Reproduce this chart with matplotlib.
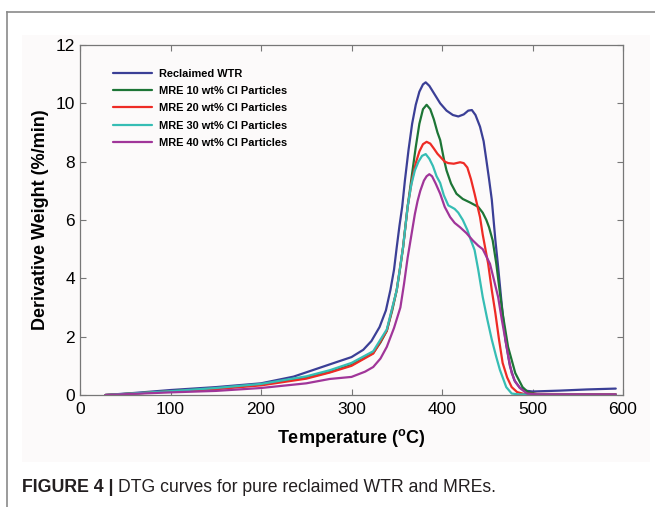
import matplotlib
matplotlib.use("Agg")
import matplotlib.pyplot as plt
from matplotlib.patches import Rectangle
from matplotlib.lines import Line2D
from matplotlib import font_manager as fm

# ---------------- data ----------------
t_wtr = [28, 60, 100, 150, 200, 236, 276, 300, 313, 322, 331, 338, 343, 347, 350, 353, 356, 359, 363, 367,
         371, 375, 379, 382, 386, 391, 398, 405, 412, 418, 424, 429, 433, 437, 442, 446, 449, 452, 455, 459,
         462, 466, 470, 475, 480, 486, 492, 500, 530, 560, 592]
y_wtr = [0.0, 0.07, 0.17, 0.27, 0.4, 0.63, 1.05, 1.3, 1.55, 1.85, 2.33, 2.9, 3.6, 4.3, 5.07, 5.8, 6.45, 7.35,
         8.4, 9.3, 9.95, 10.4, 10.65, 10.72, 10.6, 10.35, 10.0, 9.75, 9.6, 9.55, 9.62, 9.75, 9.77, 9.6, 9.2,
         8.7, 8.06, 7.4, 6.7, 5.3, 4.4, 3.1, 1.9, 1.0, 0.5, 0.25, 0.15, 0.12, 0.15, 0.19, 0.22]

t_10 = [28, 60, 100, 150, 200, 250, 276, 300, 324, 332, 339, 345, 350, 354, 357, 362, 367, 371, 375, 379,
        383, 387, 391, 395, 398, 402, 405, 410, 416, 423, 431, 440, 445, 449, 452, 456, 460, 464, 467, 473,
        481, 489, 495, 505, 550, 592]
y_10 = [0.0, 0.05, 0.13, 0.22, 0.36, 0.6, 0.79, 1.03, 1.44, 1.8, 2.2, 2.9, 3.6, 4.4, 5.07, 6.45, 7.6, 8.5,
        9.3, 9.8, 9.95, 9.8, 9.45, 9.0, 8.74, 8.1, 7.7, 7.25, 6.9, 6.72, 6.6, 6.45, 6.25, 6.0, 5.75, 5.3,
        4.5, 3.5, 2.8, 1.65, 0.75, 0.27, 0.1, 0.03, 0.02, 0.02]

t_20 = [28, 100, 150, 200, 250, 276, 300, 324, 339, 350, 357, 362, 367, 371, 375, 379, 383, 387, 391, 395,
        398, 403, 407, 413, 420, 424, 428, 432, 436, 442, 445, 448, 451, 455, 459, 463, 467, 472, 477, 483,
        490, 592]
y_20 = [0.0, 0.12, 0.2, 0.33, 0.56, 0.77, 1.0, 1.42, 2.2, 3.6, 5.07, 6.45, 7.4, 7.95, 8.35, 8.6, 8.68, 8.62,
        8.45, 8.27, 8.17, 8.0, 7.95, 7.93, 7.98, 7.95, 7.8, 7.4, 6.9, 6.1, 5.5, 5.0, 4.5, 3.6, 2.8, 1.9, 1.1,
        0.6, 0.27, 0.1, 0.04, 0.02]

t_30 = [28, 100, 150, 200, 250, 276, 300, 324, 339, 350, 357, 362, 366, 370, 374, 378, 382, 386, 390, 394,
        398, 402, 407, 410, 414, 418, 423, 428, 432, 436, 440, 445, 450, 455, 460, 464, 471, 477, 485, 592]
y_30 = [0.0, 0.13, 0.24, 0.38, 0.64, 0.85, 1.1, 1.5, 2.25, 3.6, 5.07, 6.45, 7.2, 7.7, 8.0, 8.2, 8.26, 8.1,
        7.85, 7.5, 7.27, 6.85, 6.5, 6.45, 6.38, 6.25, 6.0, 5.66, 5.3, 4.97, 4.3, 3.36, 2.6, 1.9, 1.3, 0.86,
        0.27, 0.05, 0.02, 0.01]

t_40 = [28, 100, 150, 200, 250, 276, 300, 315, 324, 332, 339, 347, 354, 358, 362, 366, 370, 373, 376, 380,
        383, 386, 389, 393, 398, 403, 409, 414, 420, 427, 434, 440, 445, 449, 453, 457, 462, 466, 470, 474,
        477, 481, 486, 494, 505, 592]
y_40 = [0.0, 0.09, 0.14, 0.24, 0.4, 0.55, 0.62, 0.8, 0.96, 1.25, 1.65, 2.3, 3.0, 3.8, 4.7, 5.45, 6.2, 6.65,
        7.0, 7.35, 7.5, 7.57, 7.5, 7.25, 6.9, 6.45, 6.1, 5.9, 5.75, 5.55, 5.3, 5.12, 5.0, 4.75, 4.5, 4.0,
        3.36, 2.6, 1.9, 1.2, 0.75, 0.45, 0.24, 0.05, 0.02, 0.02]

labels = ["Reclaimed WTR", "MRE 10 wt% CI Particles", "MRE 20 wt% CI Particles",
          "MRE 30 wt% CI Particles", "MRE 40 wt% CI Particles"]
colors = ["#3b3f96", "#1d7536", "#ee2b25", "#36bdb4", "#a03599"]

x_ticks = [0, 100, 200, 300, 400, 500, 600]
y_ticks = [0, 2, 4, 6, 8, 10, 12]

# ---------------- figure ----------------
names = {f.name for f in fm.fontManager.ttflist}
narrow = "Liberation Sans Narrow" if "Liberation Sans Narrow" in names else "Liberation Sans"
has_narrow = narrow == "Liberation Sans Narrow"
plt.rcParams["font.family"] = ["Liberation Sans", "DejaVu Sans"]

W, H = 655, 507
fig = plt.figure(figsize=(W / 100, H / 100), dpi=100)
fig.patch.set_facecolor("white")

# outer frame lines
fig.add_artist(Line2D([7 / W, 7 / W], [0, 1 - 12 / H], transform=fig.transFigure, color="#8a8a8a", lw=1.2))
fig.add_artist(Line2D([7 / W, 1], [1 - 12 / H, 1 - 12 / H], transform=fig.transFigure, color="#8a8a8a", lw=1.2))
# panel background
fig.add_artist(Rectangle((22 / W, 1 - 462 / H), (650 - 22) / W, (462 - 35) / H,
                         transform=fig.transFigure, facecolor="#fcfafa", edgecolor="none", zorder=0))

ax = fig.add_axes([80 / W, 1 - 395 / H, (623 - 80) / W, (395 - 45) / H])
ax.set_facecolor("#fcfafa")

series = [(t_wtr, y_wtr), (t_10, y_10), (t_20, y_20), (t_30, y_30), (t_40, y_40)]
handles = []
for (t, y), c, lab in zip(series, colors, labels):
    h, = ax.plot(t, y, color=c, lw=1.6, label=lab, solid_joinstyle="round", solid_capstyle="round")
    handles.append(h)

ax.set_xlim(0, 600)
ax.set_ylim(0, 12)
ax.set_xticks(x_ticks)
ax.set_yticks(y_ticks)
ax.tick_params(direction="in", top=True, right=True, length=4, width=0.8, color="#777777",
               labelsize=12.5)
ax.tick_params(axis="x", pad=5)
for s in ax.spines.values():
    s.set_color("#777777")
    s.set_linewidth(0.9)

ax.set_xlabel("Temperature ($\\mathregular{^{o}}$C)", fontsize=13, fontweight="bold", labelpad=7)
ax.set_ylabel("Derivative Weight (%/min)", fontsize=13, fontweight="bold", labelpad=5)

leg_size = 9.0 if has_narrow else 7.9
leg = ax.legend(handles=handles, loc="upper left", bbox_to_anchor=(0.061, 0.932), frameon=False,
                prop={"family": narrow, "weight": "bold", "size": leg_size},
                handlelength=3.5, handletextpad=0.7, labelspacing=0.66, borderpad=0, borderaxespad=0)

# caption
cap_b = 13.5 if has_narrow else 12.8
t1 = fig.text(22 / W, 1 - 488 / H, "FIGURE 4 |", fontsize=cap_b, fontweight="bold",
              family=narrow, color="#231f20", va="center", ha="left")
fig.canvas.draw()
bb = t1.get_window_extent(renderer=fig.canvas.get_renderer())
fig.text(bb.x1 / W + 4 / W, 1 - 488 / H, "DTG curves for pure reclaimed WTR and MREs.",
         fontsize=(13.5 if has_narrow else 12.7), family=narrow, color="#231f20", va="center", ha="left")

fig.savefig("out.png", dpi=100, facecolor=fig.get_facecolor())
